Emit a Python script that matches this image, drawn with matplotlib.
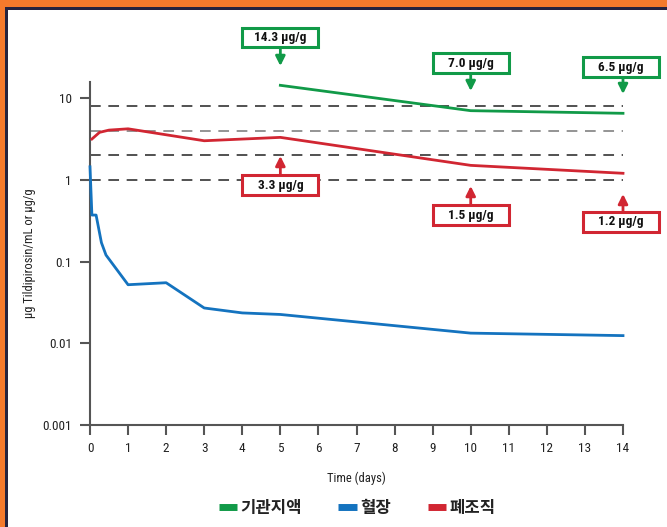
import matplotlib
matplotlib.use("Agg")
import matplotlib.pyplot as plt
from matplotlib import font_manager
from matplotlib.patches import Rectangle
from matplotlib.lines import Line2D

# ---- data ----
bronch_x = [5, 10, 14]
bronch_y = [14.3, 7.0, 6.5]
plasma_x = [0, 0.05, 0.16, 0.3, 0.42, 1, 2, 3, 4, 5, 10, 14]
plasma_y = [1.44, 0.37, 0.37, 0.17, 0.12, 0.052, 0.055, 0.027, 0.0235, 0.0225, 0.0133, 0.0124]
lung_x = [0.05, 0.25, 0.5, 1, 3, 5, 10, 14]
lung_y = [3.15, 3.8, 4.05, 4.2, 3.0, 3.3, 1.5, 1.2]
ref_levels = [8, 4, 2, 1]
ref_colors = ["#222222", "#777777", "#222222", "#222222"]
series_names = ["기관지액", "혈장", "폐조직"]
green_labels = ["14.3 μg/g", "7.0 μg/g", "6.5 μg/g"]
red_labels = ["3.3 μg/g", "1.5 μg/g", "1.2 μg/g"]
label_days = [5, 10, 14]
x_ticks = list(range(0, 15))
y_ticks = [0.001, 0.01, 0.1, 1, 10]
y_ticklabels = ["0.001", "0.01", "0.1", "1", "10"]

GREEN = "#119a48"
BLUE = "#1473bf"
RED = "#d12632"
ORANGE = "#f47a2c"
NAVY = "#24233f"

def pick_font(cands):
    for c in cands:
        try:
            font_manager.findfont(c, fallback_to_default=False)
            return c
        except Exception:
            pass
    return "DejaVu Sans"

NUMFONT = pick_font(["Liberation Sans Narrow", "Roboto Condensed", "Roboto", "Liberation Sans"])
KFONT = pick_font(["Noto Sans CJK KR"])
plt.rcParams["font.family"] = [NUMFONT, KFONT, "DejaVu Sans"]

W, H = 667, 527
fig = plt.figure(figsize=(W / 100, H / 100), dpi=100, facecolor=ORANGE)

def fx(px):
    return px / W

def fy(py):
    return 1 - py / H

# white panel with navy border
fig.patches.append(Rectangle((fx(5), -0.1), 1.2, fy(7) + 0.1, transform=fig.transFigure,
                             facecolor=NAVY, edgecolor="none", zorder=-10))
fig.patches.append(Rectangle((fx(8), -0.1), 1.2, fy(10) + 0.1, transform=fig.transFigure,
                             facecolor="white", edgecolor="none", zorder=-9))

ax = fig.add_axes([fx(90), fy(425), fx(623) - fx(90), fy(82) - fy(425)])
ax.set_zorder(1)
ax.set_facecolor("none")
ax.set_yscale("log")
ax.set_xlim(0, 14)
ax.set_ylim(0.001, 15.7)

for lvl, c in zip(ref_levels, ref_colors):
    ax.plot([0, 14], [lvl, lvl], color=c, lw=1.1, dashes=(7, 5), zorder=1)

ax.plot(bronch_x, bronch_y, color=GREEN, lw=2, zorder=3, clip_on=False)
ax.plot(plasma_x, plasma_y, color=BLUE, lw=2, zorder=3, clip_on=False)
ax.plot(lung_x, lung_y, color=RED, lw=2, zorder=3, clip_on=False)

for s in ["top", "right"]:
    ax.spines[s].set_visible(False)
for s in ["left", "bottom"]:
    ax.spines[s].set_color("#555555")
    ax.spines[s].set_linewidth(1.5)

ax.set_xticks(x_ticks)
ax.set_xticklabels([str(t) for t in x_ticks])
ax.set_yticks(y_ticks)
ax.set_yticklabels(y_ticklabels)
ax.minorticks_off()
ax.tick_params(axis="both", direction="out", length=7, width=1.5, color="#555555",
               labelsize=9.5, labelcolor="#222222")
ax.tick_params(axis="x", pad=5)
ax.tick_params(axis="y", pad=6)

ax.set_xlabel("Time (days)", fontsize=9, color="#222222", labelpad=12)
fig.text(fx(30), fy(253), "μg Tildipirosin/mL or μg/g", rotation=90, fontsize=9,
         color="#222222", ha="center", va="center")

# annotation boxes
def box(xday, top_px, bot_px, label, color, tip_px, up):
    cx_fig = fig.transFigure.inverted().transform(ax.transData.transform((xday, 1)))[0]
    cx = cx_fig * W
    wbox = 76
    left = min(cx - wbox / 2, W - 8 - wbox)
    fig.patches.append(Rectangle((fx(left), fy(bot_px)), wbox / W, (bot_px - top_px) / H,
                                 transform=fig.transFigure, facecolor="white",
                                 edgecolor=color, lw=2.2, zorder=5))
    fig.text(fx(left + wbox / 2), fy((top_px + bot_px) / 2), label, ha="center", va="center",
             fontsize=9.5, fontweight="bold", color="#111111", zorder=6)
    start = top_px if up else bot_px
    ax.annotate("", xy=(fx(cx), fy(tip_px)), xytext=(fx(cx), fy(start)),
                xycoords="figure fraction", textcoords="figure fraction",
                arrowprops=dict(arrowstyle="-|>", color=color, lw=2, mutation_scale=14,
                                shrinkA=0, shrinkB=0), annotation_clip=False)

green_boxes = [(28, 47, 66), (53, 73, 91), (57, 77, 94)]
red_boxes = [(175, 195, 156), (205, 225, 186), (212, 232, 194)]
for d, lab, (t, b, tip) in zip(label_days, green_labels, green_boxes):
    box(d, t, b, lab, GREEN, tip, up=False)
for d, lab, (t, b, tip) in zip(label_days, red_labels, red_boxes):
    box(d, t, b, lab, RED, tip, up=True)

handles = [Line2D([], [], color=c, lw=5, solid_capstyle="butt") for c in (GREEN, BLUE, RED)]
leg = fig.legend(handles, series_names, loc="center", bbox_to_anchor=(fx(357), fy(508)),
                 ncol=3, frameon=False, handlelength=1.1, handletextpad=0.2,
                 columnspacing=2.2, prop={"family": [KFONT], "size": 12, "weight": "bold"})
for t in leg.get_texts():
    t.set_color("#222222")

fig.savefig("out.png", dpi=100, facecolor=ORANGE)
